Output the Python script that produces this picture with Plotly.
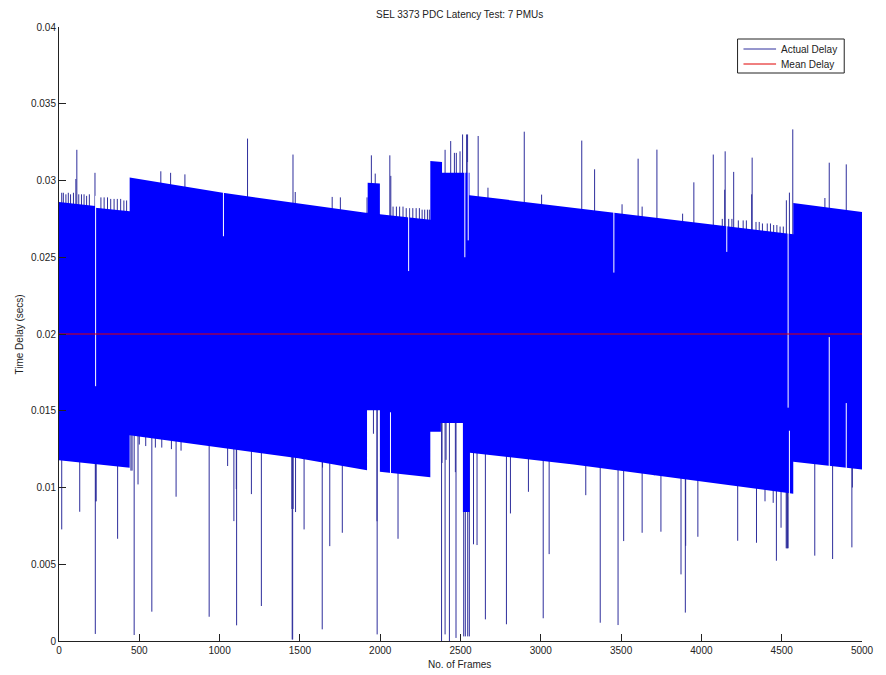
import plotly.graph_objects as go

# ---------------- data ----------------
title_text = "SEL 3373 PDC Latency Test: 7 PMUs"
x_label = "No. of Frames"
y_label = "Time Delay (secs)"
series_names = ["Actual Delay", "Mean Delay"]

x_ticks = [0, 500, 1000, 1500, 2000, 2500, 3000, 3500, 4000, 4500, 5000]
y_ticks = [0, 0.005, 0.01, 0.015, 0.02, 0.025, 0.03, 0.035, 0.04]
y_tick_text = ["0", "0.005", "0.01", "0.015", "0.02", "0.025", "0.03", "0.035", "0.04"]

mean_delay = 0.0200

# upper envelope of the dense oscillating delay band (frame, secs)
upper_frames = [0, 226, 226, 440, 440, 1020, 1910, 1922, 1922, 1998, 1998, 2312, 2312, 2385, 2385,
                2556, 2556, 3204, 4572, 4572, 5000]
upper_vals = [0.0286, 0.02834, 0.02823, 0.0280, 0.03019, 0.0292, 0.0279, 0.0279, 0.02986, 0.0298,
              0.0278, 0.02745, 0.03127, 0.0312, 0.0305, 0.0305, 0.02904, 0.02823, 0.0265, 0.02853,
              0.02795]

# lower envelope of the band
lower_frames = [0, 440, 440, 1490, 1918, 1918, 1998, 1998, 2312, 2312, 2378, 2378, 2515, 2515,
                2558, 2558, 3204, 4572, 4572, 5000]
lower_vals = [0.01178, 0.01128, 0.0134, 0.0119, 0.01113, 0.01504, 0.01504, 0.01102, 0.01066,
              0.01363, 0.01363, 0.0142, 0.0142, 0.0084, 0.0084, 0.01226, 0.01150, 0.0096, 0.01167,
              0.01118]

# isolated samples above the band (frame, secs)
high_frames = [17, 27, 43, 58, 72, 90, 105, 111, 123, 140, 156, 172, 189, 224,
               261, 281, 302, 322, 343, 363, 384, 404, 421,
               634, 695, 784, 1174, 1457, 1471, 1701, 1752, 1918, 1945, 1969, 2060, 2066,
               2080, 2101, 2121, 2142, 2162, 2183, 2203, 2224, 2244, 2261, 2277, 2294, 2306,
               2404, 2439, 2462, 2474, 2497, 2513, 2538, 2544, 2610, 2671, 2897, 3005,
               3255, 3335, 3506, 3606, 3631, 3723, 3883, 3953, 4074, 4145, 4148, 4201, 4313, 4316,
               4130, 4170, 4190, 4230, 4260, 4280, 4340, 4360, 4380, 4410, 4430, 4450, 4470, 4490,
               4510, 4529, 4548, 4569, 4769, 4796, 4902]
high_vals = [0.0292, 0.0292, 0.0291, 0.0292, 0.0291, 0.0292, 0.0301, 0.0320, 0.0291, 0.0291,
             0.0291, 0.0290, 0.0291, 0.0305,
             0.0289, 0.0289, 0.0289, 0.0288, 0.0288, 0.0288, 0.0288, 0.0287, 0.0287,
             0.0306, 0.0305, 0.0304, 0.03273, 0.03169, 0.02925, 0.02893, 0.0289, 0.0289,
             0.03164, 0.03045, 0.03164, 0.0303,
             0.0283, 0.0283, 0.0283, 0.0283, 0.0282, 0.0282, 0.0282, 0.0282, 0.0282, 0.0281,
             0.0281, 0.0281, 0.0281,
             0.0320, 0.03257, 0.0318, 0.0318, 0.0319, 0.0330, 0.0330, 0.0330, 0.0329, 0.02953,
             0.03318, 0.02908,
             0.0326, 0.03073, 0.02845, 0.03142, 0.0283, 0.03201, 0.02784, 0.02988, 0.03169,
             0.0294, 0.0319, 0.03056, 0.0291, 0.03149,
             0.0275, 0.0275, 0.0275, 0.0274, 0.0274, 0.0274, 0.0273, 0.0273, 0.0272, 0.0272,
             0.0272, 0.0271, 0.0271, 0.0270,
             0.0270, 0.02871, 0.02921, 0.03333, 0.02886, 0.03116, 0.03105]

# isolated samples below the band (frame, secs)
low_frames = [17, 129, 226, 229, 231, 365, 448, 455, 468, 492, 500, 540, 600, 640, 700, 760,
              578, 729, 935, 1050, 1089, 1104, 1106, 1198, 1260, 1450, 1452, 1455, 1458, 1473,
              1526, 1639, 1641, 1686, 1764, 1958, 1980, 1981, 2111, 2382, 2385, 2404, 2410, 2431,
              2468, 2472, 2520, 2530, 2545, 2555, 2581, 2603, 2655, 2786, 2811, 2923, 3015, 3052,
              3280, 3370, 3481, 3516, 3631, 3707, 3748, 3873, 3900, 3902, 3978, 4226, 4343,
              4396, 4447, 4467, 4496, 4528, 4532, 4536, 4540, 4706, 4817, 4937, 4940]
low_vals = [0.00727, 0.00842, 0.00046, 0.0091, 0.0091, 0.00666, 0.0111, 0.0111, 0.00039, 0.0102,
            0.0128, 0.0127, 0.0126, 0.0126, 0.0125, 0.0124,
            0.00191, 0.0094, 0.00158, 0.0114, 0.00781, 0.0099, 0.00102, 0.00957, 0.00228,
            0.0086, 0.0001, 0.0001, 0.0086, 0.0084,
            0.00727, 0.00076, 0.0113, 0.00618, 0.00705, 0.0135, 0.0078, 0.00043, 0.00666,
            0.0000, 0.0116, 0.00043, 0.0118, 0.0000,
            0.0110, 0.0002, 0.0003, 0.0003, 0.0003, 0.0003, 0.0063, 0.00625, 0.00141, 0.00109,
            0.00831, 0.00972, 0.00148, 0.00566,
            0.0095, 0.00119, 0.00104, 0.00651, 0.00705, 0.0108, 0.00712, 0.00434, 0.00185,
            0.0062, 0.00679, 0.00653, 0.0064,
            0.0091, 0.0090, 0.00523, 0.00738, 0.00604, 0.00604, 0.00604, 0.00604, 0.00556,
            0.00534, 0.0061, 0.0100]

# thin missing stretches (white gaps) through the band: frame, from, to
gap_frames = [228, 1024, 2064, 2177, 2527, 2548, 3455, 4158, 4540, 4548, 4796, 4902]
gap_top = [0.0290, 0.0293, 0.0149, 0.0285, 0.0312, 0.0312, 0.0282, 0.0272, 0.0268, 0.0137,
           0.0198, 0.0155]
gap_bottom = [0.0166, 0.02637, 0.0108, 0.0241, 0.0250, 0.0261, 0.0240, 0.02535, 0.0152, 0.0094,
              0.0112, 0.0112]

# ---------------- build figure ----------------
BLUE = "#0000ff"
SPIKE = "#2e2e9c"
RED = "#e00000"
INK = "#222222"

W, H = 886, 675
ML, MR, MT, MB = 59, 14, 27, 34
PW, PH = W - ML - MR, H - MT - MB


def px_x(p):  # pixel -> paper x
    return (p - ML) / PW


def px_y(p):  # pixel -> paper y
    return (H - MB - p) / PH


sx, sy = [], []
for f, v in list(zip(high_frames, high_vals)) + list(zip(low_frames, low_vals)):
    sx += [f, f, None]
    sy += [mean_delay, v, None]

gx, gy = [], []
for f, a, b in zip(gap_frames, gap_top, gap_bottom):
    gx += [f, f, None]
    gy += [a, b, None]

fig = go.Figure()
fig.add_trace(go.Scatter(x=sx, y=sy, mode="lines", name=series_names[0],
                         line=dict(color=SPIKE, width=1), hoverinfo="skip"))
fig.add_trace(go.Scatter(x=upper_frames + lower_frames[::-1],
                         y=upper_vals + lower_vals[::-1],
                         mode="lines", fill="toself", fillcolor=BLUE,
                         line=dict(color=BLUE, width=0), name=series_names[0],
                         hoverinfo="skip"))
fig.add_trace(go.Scatter(x=gx, y=gy, mode="lines", line=dict(color="white", width=1),
                         hoverinfo="skip"))
fig.add_trace(go.Scatter(x=[x_ticks[0], x_ticks[-1]], y=[mean_delay, mean_delay],
                         mode="lines", name=series_names[1],
                         line=dict(color=RED, width=1)))

# legend box drawn like the MATLAB one (compact rows)
lx0, lx1, ly0, ly1 = 746, 854, 39, 73
row_y = [49, 64]
shapes = [dict(type="rect", xref="paper", yref="paper",
               x0=px_x(lx0), x1=px_x(lx1), y0=px_y(ly1), y1=px_y(ly0),
               line=dict(color=INK, width=1), fillcolor="white", layer="above")]
annotations = []
for name, color, ry in zip(series_names, [SPIKE, RED], row_y):
    shapes.append(dict(type="line", xref="paper", yref="paper",
                       x0=px_x(752), x1=px_x(785), y0=px_y(ry), y1=px_y(ry),
                       line=dict(color=color, width=1), layer="above"))
    annotations.append(dict(text=name, xref="paper", yref="paper", x=px_x(788), y=px_y(ry),
                            xanchor="left", yanchor="middle", showarrow=False,
                            font=dict(size=10, color=INK)))

annotations += [
    dict(text=title_text, xref="paper", yref="paper", x=px_x(464), y=px_y(14.5),
         xanchor="center", yanchor="middle", showarrow=False, font=dict(size=10, color=INK)),
    dict(text=x_label, xref="paper", yref="paper", x=px_x(464.5), y=px_y(664.3),
         xanchor="center", yanchor="middle", showarrow=False, font=dict(size=10, color=INK)),
    dict(text=y_label, xref="paper", yref="paper", x=px_x(18), y=px_y(335),
         xanchor="center", yanchor="middle", textangle=-90, showarrow=False,
         font=dict(size=10, color=INK)),
]

font_family = "Liberation Sans, Arial, sans-serif"
fig.update_layout(
    width=W, height=H,
    margin=dict(l=ML, r=MR, t=MT, b=MB),
    paper_bgcolor="white", plot_bgcolor="white",
    font=dict(family=font_family, size=10, color=INK),
    showlegend=False,
    xaxis=dict(range=[0, 5000], tickvals=x_ticks, ticks="inside", ticklen=7,
               tickcolor=INK, showline=True, linecolor=INK, linewidth=1,
               showgrid=False, zeroline=False, mirror=False, fixedrange=True),
    yaxis=dict(range=[0, 0.04], tickvals=y_ticks, ticktext=y_tick_text, ticks="inside",
               ticklen=7, tickcolor=INK, showline=True, linecolor=INK,
               linewidth=1, showgrid=False, zeroline=False, mirror=False, fixedrange=True),
    shapes=shapes,
    annotations=annotations,
)

fig.write_html("out.html")
